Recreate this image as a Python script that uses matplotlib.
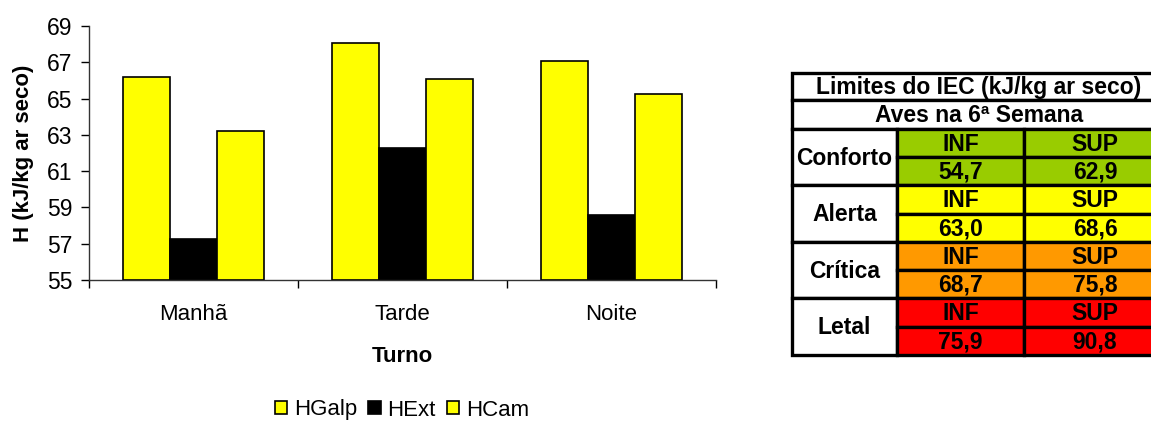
import numpy as np
import matplotlib.pyplot as plt
from matplotlib.patches import Rectangle, Patch

plt.rcParams['font.family'] = ['Liberation Sans', 'DejaVu Sans']

# data
turnos = ['Manhã', 'Tarde', 'Noite']
series_names = ['HGalp', 'HExt', 'HCam']
hgalp = [66.2, 68.05, 67.07]
hext = [57.24, 62.27, 58.6]
hcam = [63.2, 66.1, 65.23]
series_colors = ['#FFFF00', '#000000', '#FFFF00']

# table data
tab_title = 'Limites do IEC (kJ/kg ar seco)'
tab_sub = 'Aves na 6ª Semana'
zonas = ['Conforto', 'Alerta', 'Crítica', 'Letal']
lim_inf = ['54,7', '63,0', '68,7', '75,9']
lim_sup = ['62,9', '68,6', '75,8', '90,8']
zona_colors = ['#99CC00', '#FFFF00', '#FF9900', '#FF0000']

W, H = 1151, 426
fig = plt.figure(figsize=(W / 100, H / 100), dpi=100)

ax = fig.add_axes([89 / W, (H - 280) / H, (716 - 89) / W, 254 / H])
x = np.arange(len(turnos))
bw = 0.225
for i, (vals, name) in enumerate(zip([hgalp, hext, hcam], series_names)):
    ax.bar(x + (i - 1) * bw, np.array(vals) - 55, bw, bottom=55,
           color=series_colors[i], edgecolor='black', linewidth=1.2, label=name)

ax.set_xlim(-0.5, 2.5)
ax.set_ylim(55, 69)
ax.set_yticks(np.arange(55, 70, 2))
ax.set_xticks(x)
ax.set_xticklabels(turnos)
ax.set_xticks(np.arange(-0.5, 3, 1), minor=True)
ax.tick_params(axis='x', which='major', length=0, pad=17, labelsize=16)
ax.tick_params(axis='x', which='minor', length=6, width=1, direction='out')
ax.tick_params(axis='y', length=6, width=1, direction='out', labelsize=16.5, pad=6)
for s in ['top', 'right']:
    ax.spines[s].set_visible(False)
for s in ['left', 'bottom']:
    ax.spines[s].set_linewidth(1)
    ax.spines[s].set_color('#333333')

ax.set_ylabel('H (kJ/kg ar seco)', fontsize=16, fontweight='bold')
ax.yaxis.set_label_coords(-0.087, 0.5)
ax.set_xlabel('Turno', fontsize=16, fontweight='bold')
ax.xaxis.set_label_coords(0.5, -0.26)

handles = [Patch(facecolor=c, edgecolor='black', linewidth=1.2) for c in series_colors]
fig.legend(handles, series_names, loc='center', bbox_to_anchor=(402 / W, 1 - 410 / H),
           ncol=3, frameon=False, fontsize=16, handlelength=0.55, handleheight=0.55,
           handletextpad=0.3, columnspacing=0.5)

# table drawn in pixel-like coordinates
tx0, tx1, ty0, ty1 = 792, 1151, 73, 356
tax = fig.add_axes([tx0 / W, (H - ty1) / H, (tx1 - tx0) / W, (ty1 - ty0) / H])
tax.set_xlim(tx0, tx1)
tax.set_ylim(ty1, ty0)
tax.axis('off')

c0, c1, c2, c3 = 792, 897, 1024, 1166
r_title, r_sub, r_body = 73, 100, 129
rh = (355 - r_body) / 8
lw = 2.4
fs = 16.5

def cell(xa, xb, ya, yb, text, fc='white'):
    tax.add_patch(Rectangle((xa, ya), xb - xa, yb - ya, facecolor=fc,
                            edgecolor='black', linewidth=lw, clip_on=False))
    tax.text((xa + xb) / 2, (ya + yb) / 2 + 1, text, ha='center', va='center',
             fontsize=fs, fontweight='bold', clip_on=False)

cell(c0, c3, r_title, r_sub, tab_title)
cell(c0, c3, r_sub, r_body, tab_sub)
for k, z in enumerate(zonas):
    ya = r_body + 2 * k * rh
    cell(c0, c1, ya, ya + 2 * rh, z)
    cell(c1, c2, ya, ya + rh, 'INF', zona_colors[k])
    cell(c2, c3, ya, ya + rh, 'SUP', zona_colors[k])
    cell(c1, c2, ya + rh, ya + 2 * rh, lim_inf[k], zona_colors[k])
    cell(c2, c3, ya + rh, ya + 2 * rh, lim_sup[k], zona_colors[k])

fig.savefig('out.png', dpi=100)
